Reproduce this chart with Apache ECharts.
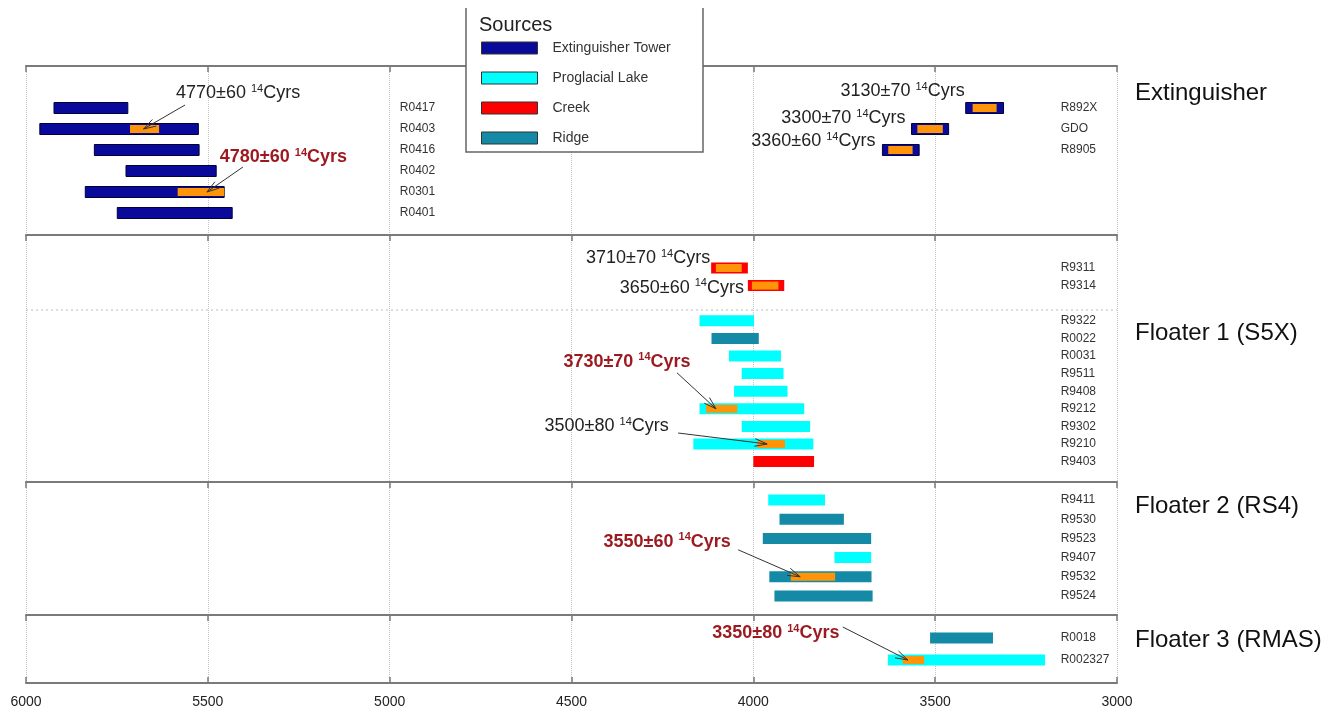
<!DOCTYPE html>
<html><head><meta charset="utf-8">
<script src="https://cdn.jsdelivr.net/npm/echarts@6/dist/echarts.min.js"></script>
<style>html,body{margin:0;padding:0;background:#fff;}#chart{width:1333px;height:713px;}</style>
</head><body><div id="chart"></div>
<script>
// ---------------- DATA ----------------
const xTicks = [3000, 3500, 4000, 4500, 5000, 5500, 6000];
const sourceNames = ['Extinguisher Tower', 'Proglacial Lake', 'Creek', 'Ridge'];
const sourceCodes = ['ET', 'PL', 'CR', 'RI'];
const panelTitles = ['Extinguisher', 'Floater 1 (S5X)', 'Floater 2 (RS4)', 'Floater 3 (RMAS)'];

const extNames    = ['R0417','R0403','R0416','R0402','R0301','R0401','R892X','GDO','R8905'];
const extRows     = [0,1,2,3,4,5,0,1,2];
const extSource   = ['ET','ET','ET','ET','ET','ET','ET','ET','ET'];
const extOld      = [5923,5962,5812,5725,5837,5749,3416,3565,3645];
const extYoung    = [5720,5526,5524,5477,5455,5433,3312,3463,3544];
const extCalOld   = [null,5714,null,null,5583,null,3397,3549,3629];
const extCalYoung = [null,5634,null,null,5455,null,3331,3479,3562];

const f1Names    = ['R9311','R9314','R9322','R0022','R0031','R9511','R9408','R9212','R9302','R9210','R9403'];
const f1Rows     = [0,1,3,4,5,6,7,8,9,10,11];
const f1Source   = ['CR','CR','PL','RI','PL','PL','PL','PL','PL','PL','CR'];
const f1Old      = [4116,4015,4148,4115,4067,4032,4053,4148,4032,4165,4000];
const f1Young    = [4015,3915,3998,3985,3924,3917,3906,3860,3844,3835,3833];
const f1CalOld   = [4103,4004,null,null,null,null,null,4130,null,3989,null];
const f1CalYoung = [4032,3931,null,null,null,null,null,4044,null,3913,null];

const f2Names    = ['R9411','R9530','R9523','R9407','R9532','R9524'];
const f2Rows     = [0,1,2,3,4,5];
const f2Source   = ['PL','RI','RI','PL','RI','RI'];
const f2Old      = [3959,3928,3974,3777,3956,3942];
const f2Young    = [3803,3751,3676,3676,3675,3672];
const f2CalOld   = [null,null,null,null,3897,null];
const f2CalYoung = [null,null,null,null,3775,null];

const f3Names    = ['R0018','R002327'];
const f3Rows     = [0,1];
const f3Source   = ['RI','PL'];
const f3Old      = [3514,3630];
const f3Young    = [3341,3198];
const f3CalOld   = [null,3589];
const f3CalYoung = [null,3530];

const annSample = ['R0403','R0301','R892X','GDO','R8905','R9311','R9314','R9212','R9210','R9532','R002327'];
const annAge    = ['4770±60','4780±60','3130±70','3300±70','3360±60','3710±70','3650±60','3730±70','3500±80','3550±60','3350±80'];
const annKey    = [false,true,false,false,false,false,false,true,false,true,true];

// ---------------- STYLE / LAYOUT ----------------
const FONT = '"Liberation Sans", Arial, Helvetica, sans-serif';
const SRC_COLOR = ['#0a0a9a', '#00ffff', '#ff0000', '#148aa6'];
const CAL_COLOR = '#ff9408';
const KEY_COLOR = '#9c1a1f';
const BAR_H = 11;
const GRID_LEFT = 26, GRID_RIGHT = 216;
const LEFT_LABEL_YR = 4972, RIGHT_LABEL_YR = 3155;
const PANEL_LAYOUT = [
  { top: 97.5,  slot: 21,   lineY: null },
  { top: 259.2, slot: 17.6, lineY: 235 },
  { top: 490.4, slot: 19.2, lineY: 482 },
  { top: 627,   slot: 22,   lineY: 615 }
];
const TITLE_Y = [93, 333, 506, 640];
const ANN_LAYOUT = {
  R0403:   { mode: 'arrow', tx: 93.5,   ty: -36, sx: 40.5,  sy: -24, px: -1 },
  R0301:   { mode: 'arrow', tx: 82.5,   ty: -35, sx: 42,    sy: -25, px: 6 },
  R9212:   { mode: 'arrow', tx: -94.7,  ty: -47, sx: -44.7, sy: -36, px: -5.7 },
  R9210:   { mode: 'arrow', tx: -164.5, ty: -18, sx: -93,   sy: -11, px: -4 },
  R9532:   { mode: 'arrow', tx: -145.8, ty: -35, sx: -74.8, sy: -27, px: -12.8 },
  R002327: { mode: 'arrow', tx: -137.7, ty: -27, sx: -70.7, sy: -33, px: -5.7 },
  R892X:   { mode: 'side', dx: -1, dy: -17 },
  GDO:     { mode: 'side', dx: -6, dy: -11 },
  R8905:   { mode: 'side', dx: -7, dy: -9 },
  R9311:   { mode: 'side', dx: -1, dy: -10 },
  R9314:   { mode: 'side', dx: -4, dy: 2 }
};

const panels = [
  { names: extNames, rows: extRows, src: extSource, old: extOld, young: extYoung, calOld: extCalOld, calYoung: extCalYoung },
  { names: f1Names,  rows: f1Rows,  src: f1Source,  old: f1Old,  young: f1Young,  calOld: f1CalOld,  calYoung: f1CalYoung },
  { names: f2Names,  rows: f2Rows,  src: f2Source,  old: f2Old,  young: f2Young,  calOld: f2CalOld,  calYoung: f2CalYoung },
  { names: f3Names,  rows: f3Rows,  src: f3Source,  old: f3Old,  young: f3Young,  calOld: f3CalOld,  calYoung: f3CalYoung }
];

// ---------------- BUILD ----------------
const xMin = xTicks[0], xMax = xTicks[xTicks.length - 1], xStep = xTicks[1] - xTicks[0];

function renderBar(params, api) {
  const row = api.value(1);
  const a = api.coord([api.value(0), row]);
  const b = api.coord([api.value(2), row]);
  const fill = api.visual('color');
  const kids = [{
    type: 'rect',
    shape: { x: a[0], y: a[1] - BAR_H / 2, width: b[0] - a[0], height: BAR_H },
    style: { fill: fill, stroke: fill === SRC_COLOR[0] ? '#00003c' : null, lineWidth: 1 }
  }];
  const co = api.value(3), cy = api.value(4);
  if (isFinite(co) && isFinite(cy)) {
    const c = api.coord([co, row]), d = api.coord([cy, row]);
    kids.push({
      type: 'rect',
      shape: { x: c[0], y: c[1] - BAR_H / 2 + 1.5, width: d[0] - c[0], height: BAR_H - 3 },
      style: { fill: CAL_COLOR }
    });
  }
  return { type: 'group', children: kids };
}

function richFor(key) {
  const col = key ? KEY_COLOR : '#222';
  const w = key ? 'bold' : 'normal';
  return {
    n: { fontSize: 18, fontFamily: FONT, fill: col, fontWeight: w, lineHeight: 20 },
    s: { fontSize: 11, fontFamily: FONT, fill: col, fontWeight: w, verticalAlign: 'top', lineHeight: 11 }
  };
}

function makeLabelRenderer(P) {
  return function (params, api) {
    const i = api.value(2);
    const row = api.value(1);
    const name = P.names[i];
    const lp = api.coord([api.value(0), row]);
    const kids = [{
      type: 'text',
      style: { text: name, x: lp[0], y: lp[1], align: 'left', verticalAlign: 'middle',
               fontSize: 12, fontFamily: FONT, fill: '#333' }
    }];
    const k = annSample.indexOf(name);
    if (k >= 0) {
      const L = ANN_LAYOUT[name];
      const text = '{n|' + annAge[k] + ' }{s|14}{n|Cyrs}';
      const rich = richFor(annKey[k]);
      if (L.mode === 'side') {
        const e = api.coord([P.old[i], row]);
        kids.push({ type: 'text', style: { text, rich, x: e[0] + L.dx, y: e[1] + L.dy,
                    align: 'right', verticalAlign: 'middle', fontSize: 18, fontFamily: FONT } });
      } else {
        const c = api.coord([(P.calOld[i] + P.calYoung[i]) / 2, row]);
        const sx = c[0] + L.sx, sy = c[1] + L.sy, tx = c[0] + L.px, ty = c[1];
        kids.push({ type: 'text', style: { text, rich, x: c[0] + L.tx, y: c[1] + L.ty,
                    align: 'center', verticalAlign: 'middle', fontSize: 18, fontFamily: FONT } });
        const ang = Math.atan2(ty - sy, tx - sx), hl = 13;
        const lines = [[sx, sy, tx, ty],
          [tx - hl * Math.cos(ang - 0.3), ty - hl * Math.sin(ang - 0.3), tx, ty],
          [tx - hl * Math.cos(ang + 0.3), ty - hl * Math.sin(ang + 0.3), tx, ty]];
        lines.forEach(l => kids.push({ type: 'line', shape: { x1: l[0], y1: l[1], x2: l[2], y2: l[3] },
                                      style: { stroke: '#333', lineWidth: 1 } }));
      }
    }
    return { type: 'group', children: kids };
  };
}

const grids = [{ left: GRID_LEFT, right: GRID_RIGHT, top: 66, bottom: 30 }];
const axisLineStyle = { color: '#7a7a7a', width: 2 };
const tickStyle = { show: true, inside: true, length: 6, lineStyle: { color: '#7a7a7a', width: 1.5 } };
const xAxes = [
  { gridIndex: 0, type: 'value', position: 'bottom', inverse: true, min: xMin, max: xMax, interval: xStep,
    axisLine: { show: true, onZero: false, lineStyle: axisLineStyle }, axisTick: tickStyle,
    axisLabel: { fontSize: 14, color: '#222', fontFamily: FONT, margin: 12, formatter: v => String(v) },
    splitLine: { show: true, lineStyle: { type: 'dotted', color: '#c4c4c4', width: 1 } } },
  { gridIndex: 0, type: 'value', position: 'top', inverse: true, min: xMin, max: xMax, interval: xStep,
    axisLine: { show: true, onZero: false, lineStyle: axisLineStyle }, axisTick: tickStyle,
    axisLabel: { show: false }, splitLine: { show: false } }
];
const yAxes = [{ gridIndex: 0, type: 'value', show: false, min: 0, max: 1 }];
const series = [];

panels.forEach((P, p) => {
  const lay = PANEL_LAYOUT[p];
  const nSlots = Math.max.apply(null, P.rows) + 1;
  grids.push({ left: GRID_LEFT, right: GRID_RIGHT, top: lay.top, height: nSlots * lay.slot });
  const gi = p + 1;
  if (lay.lineY === null) {
    xAxes.push({ gridIndex: gi, type: 'value', inverse: true, min: xMin, max: xMax, interval: xStep, show: false });
  } else {
    xAxes.push({ gridIndex: gi, type: 'value', position: 'top', offset: lay.top - lay.lineY,
      inverse: true, min: xMin, max: xMax, interval: xStep,
      axisLine: { show: true, onZero: false, lineStyle: axisLineStyle }, axisTick: tickStyle,
      axisLabel: { show: false }, splitLine: { show: false } });
  }
  yAxes.push({ gridIndex: gi, type: 'category', inverse: true, show: false,
    data: Array.from({ length: nSlots }, (_, k) => String(k)) });

  sourceCodes.forEach((code, s) => {
    const idx = P.names.map((_, i) => i).filter(i => P.src[i] === code);
    if (!idx.length) return;
    series.push({
      type: 'custom', name: sourceNames[s], xAxisIndex: p + 2, yAxisIndex: p + 1, z: 3,
      itemStyle: { color: SRC_COLOR[s] },
      dimensions: ['old', 'row', 'young', { name: 'calOld', type: 'float' }, { name: 'calYoung', type: 'float' }],
      encode: { x: [0, 2], y: 1 },
      data: idx.map(i => [P.old[i], P.rows[i], P.young[i],
                          P.calOld[i] == null ? '-' : P.calOld[i],
                          P.calYoung[i] == null ? '-' : P.calYoung[i]]),
      renderItem: renderBar, silent: true
    });
  });
  series.push({
    type: 'custom', name: 'labels' + p, xAxisIndex: p + 2, yAxisIndex: p + 1, z: 5, silent: true,
    encode: { x: 0, y: 1 },
    data: P.names.map((n, i) => [P.young[i] > 5000 ? LEFT_LABEL_YR : RIGHT_LABEL_YR, P.rows[i], i]),
    renderItem: makeLabelRenderer(P)
  });
});

const graphic = [
  { type: 'line', z: 1, shape: { x1: GRID_LEFT, y1: 310, x2: 1333 - GRID_RIGHT, y2: 310 },
    style: { stroke: '#bdbdbd', lineWidth: 1, lineDash: [2, 3] } },
  { type: 'rect', z: 8, shape: { x: 466, y: 8, width: 237, height: 144 }, style: { fill: '#fff' } },
  { type: 'polyline', z: 9, shape: { points: [[466, 8], [466, 152], [703, 152], [703, 8]] },
    style: { stroke: '#666', lineWidth: 1.5, fill: null } },
  { type: 'text', z: 10, x: 479, y: 25, style: { text: 'Sources', fontSize: 20, fontFamily: FONT,
    fill: '#222', verticalAlign: 'middle' } }
];
panelTitles.forEach((t, k) => graphic.push({ type: 'text', z: 10, x: 1135, y: TITLE_Y[k],
  style: { text: t, fontSize: 24, fontFamily: FONT, fill: '#111', verticalAlign: 'middle' } }));

const option = {
  animation: false,
  backgroundColor: '#fff',
  grid: grids,
  xAxis: xAxes,
  yAxis: yAxes,
  legend: {
    data: sourceNames, orient: 'vertical', left: 481, top: 41, padding: 0,
    itemWidth: 56, itemHeight: 12, itemGap: 16, icon: 'rect', selectedMode: false, z: 12,
    itemStyle: { borderColor: '#333', borderWidth: 1 },
    textStyle: { fontSize: 14, color: '#333', fontFamily: FONT, padding: [0, 0, 0, 10] }
  },
  graphic: graphic,
  series: series
};

const chart = echarts.init(document.getElementById('chart'), null, { renderer: 'canvas' });
chart.setOption(option);
</script>
</body></html>
